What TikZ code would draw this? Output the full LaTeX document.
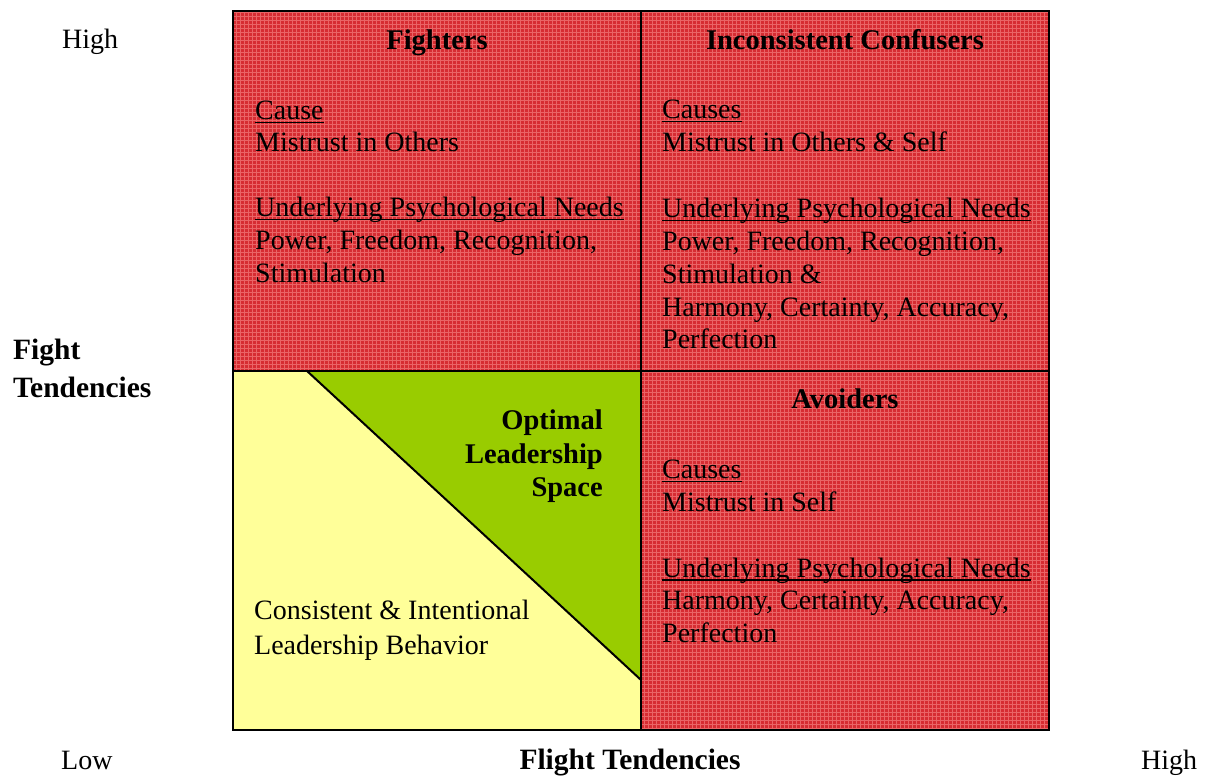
\documentclass[tikz,border=0pt]{standalone}
\usepackage{fontspec}
\setmainfont{Liberation Serif}
% underline drawn close to the baseline, crossing the descenders
\newcommand\undl[1]{\setbox0\hbox{#1}\rlap{\rule[-3.2pt]{\wd0}{1.4pt}}\box0}
\definecolor{quadred}{RGB}{214,44,50}
\definecolor{gridred}{RGB}{234,100,102}
\definecolor{calmyellow}{RGB}{255,255,153}
\definecolor{leadgreen}{RGB}{153,204,0}
\begin{document}
\begin{tikzpicture}[x=1pt,y=1pt,
  txt/.style={inner sep=0pt, anchor=base west, font=\fontsize{28}{33}\selectfont},
  ttl/.style={inner sep=0pt, anchor=base, font=\fontsize{28.5}{33}\selectfont\bfseries},
  axis/.style={inner sep=0pt, font=\fontsize{29.5}{33}\selectfont\bfseries},
  frame/.style={line width=2pt, line join=miter}]
\useasboundingbox (0,0) rectangle (1210,776);

% corners of the matrix
\coordinate (nw) at (233,765);
\coordinate (ne) at (1049,765);
\coordinate (sw) at (233,46);
\coordinate (se) at (1049,46);
\coordinate (mt) at (641,765);
\coordinate (mb) at (641,46);
\coordinate (ml) at (233,405);
\coordinate (mr) at (1049,405);
\coordinate (c)  at (641,405);
\coordinate (tri) at (307,405);
\coordinate (tip) at (641,96);

% red quadrants with a fine checked texture
\fill[quadred] (ml) rectangle (ne);
\fill[quadred] (c) rectangle (se);
\begin{scope}
  \clip (ml) rectangle (ne) (c) rectangle (se);
  \draw[gridred, line width=0.9pt, step=4] (233,46) grid (1049,765);
\end{scope}

% low-fight / low-flight quadrant
\fill[calmyellow] (sw) rectangle (c);
\fill[leadgreen] (tri) -- (c) -- (tip) -- cycle;

% outlines
\draw[frame] (tri) -- (tip);
\draw[frame] (mt) -- (mb);
\draw[frame] (ml) -- (mr);
\draw[frame] (sw) rectangle (ne);

% axis labels
\node[txt] (yhigh) at (62,727) {High};
\node[axis, anchor=base west] (yfight) at (13,416.7) {Fight};
\node[axis, anchor=base west] (ytend) at (13,378.7) {Tendencies};
\node[txt] (xlow) at (61,6.7) {Low};
\node[axis, anchor=base] (xlabel) at (630,6) {Flight Tendencies};
\node[txt] (xhigh) at (1141,6.5) {High};

% Fighters
\node[ttl] (fighters) at (437,726.7) {Fighters};
\node[txt] (fcause) at (255,656) {\undl{Cause}};
\node[txt] (fmis) at (255,624) {Mistrust in Others};
\node[txt] (fneeds) at (255,559) {\undl{Underlying Psychological Needs}};
\node[txt] (fpow) at (255,526) {Power, Freedom, Recognition,};
\node[txt] (fstim) at (255,493) {Stimulation};

% Inconsistent Confusers
\node[ttl] (confusers) at (845,726.7) {Inconsistent Confusers};
\node[txt] (ccause) at (662,657) {\undl{Causes}};
\node[txt] (cmis) at (662,624) {Mistrust in Others \& Self};
\node[txt] (cneeds) at (662,558) {\undl{Underlying Psychological Needs}};
\node[txt] (cpow) at (662,525.3) {Power, Freedom, Recognition,};
\node[txt] (cstim) at (662,492.6) {Stimulation \&};
\node[txt] (charm) at (662,459.9) {Harmony, Certainty, Accuracy,};
\node[txt] (cperf) at (662,427.2) {Perfection};

% Avoiders
\node[ttl] (avoiders) at (845,367.7) {Avoiders};
\node[txt] (acause) at (662,297) {\undl{Causes}};
\node[txt] (amis) at (662,264.3) {Mistrust in Self};
\node[txt] (aneeds) at (662,198.3) {\undl{Underlying Psychological Needs}};
\node[txt] (aharm) at (662,166) {Harmony, Certainty, Accuracy,};
\node[txt] (aperf) at (662,133) {Perfection};

% Optimal leadership space
\node[ttl, anchor=base east] (opt1) at (603,346) {Optimal};
\node[ttl, anchor=base east] (opt2) at (603,312.7) {Leadership};
\node[ttl, anchor=base east] (opt3) at (603,279.3) {Space};

% consistent behaviour
\node[txt] (cons1) at (254,156) {Consistent \& Intentional};
\node[txt] (cons2) at (254,121) {Leadership Behavior};
\end{tikzpicture}
\end{document}
